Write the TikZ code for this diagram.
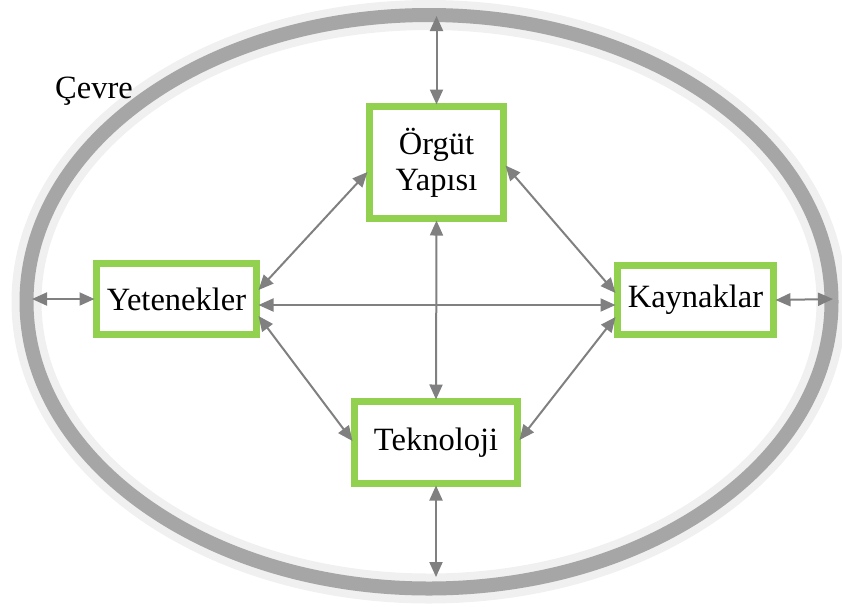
\documentclass[tikz,border=0pt]{standalone}
\usepackage{fontspec}
\setmainfont{Liberation Serif}
\usetikzlibrary{arrows.meta}
\definecolor{boxgreen}{HTML}{92D050}
\definecolor{linkgray}{HTML}{808080}
\definecolor{ringgray}{HTML}{A6A6A6}
\definecolor{ringhalo}{HTML}{F0F0F0}
\begin{document}
\begin{tikzpicture}[x=1pt,y=-1pt,
  factor/.style={draw=boxgreen, line width=7pt, fill=white, inner sep=0pt,
    outer sep=2pt, align=center, font=\fontsize{32.5}{36}\selectfont},
  link/.style={draw=linkgray, line width=2pt,
    {Triangle[length=15pt,width=13pt]}-{Triangle[length=15pt,width=13pt]}},
  label text/.style={inner sep=0pt, font=\fontsize{32.5}{36}\selectfont}
]
\useasboundingbox (0,0) rectangle (842,606);

% environment ring
\draw[ringhalo, line width=30pt] (429,301.75) ellipse [x radius=402.5pt, y radius=286.75pt];
\draw[ringgray, line width=14pt] (429,301.75) ellipse [x radius=402.5pt, y radius=286.75pt];
\node[label text, anchor=base west] (env) at (55,98) {Çevre};

% the four factors
\node[factor, minimum width=134pt, minimum height=112pt] (org) at (436.5,162.5) {Örgüt\\Yapısı};
\node[factor, minimum width=160pt, minimum height=71pt] (yet) at (176.5,299) {Yetenekler};
\node[factor, minimum width=156pt, minimum height=69pt] (kay) at (695.5,300) {Kaynaklar};
\node[factor, minimum width=163pt, minimum height=82pt] (tek) at (436,442.5) {Teknoloji};

% free ends on the ring
\coordinate (ringN) at (436.5,16);
\coordinate (ringS) at (436,577);
\coordinate (ringW) at (32,299);
\coordinate (ringE) at (833,299);

% links to the environment
\draw[link] (org.north) -- (ringN);
\draw[link] (tek.south) -- (ringS);
\draw[link] (yet.west) -- (ringW);
\draw[link] (kay.east) -- (ringE);

% links between the factors
\draw[link] ([yshift=-9.5pt]org.west) -- ([yshift=9pt]yet.east);
\draw[link] ([yshift=-3pt]org.east) -- ([yshift=7pt]kay.west);
\draw[link] ([yshift=-6pt]yet.east) -- ([yshift=-5pt]kay.west);
\draw[link] (org.south) -- (tek.north);
\draw[link] ([yshift=-17pt]yet.east) -- ([yshift=1.5pt]tek.west);
\draw[link] ([yshift=-17pt]kay.west) -- ([yshift=2.5pt]tek.east);
\end{tikzpicture}
\end{document}
